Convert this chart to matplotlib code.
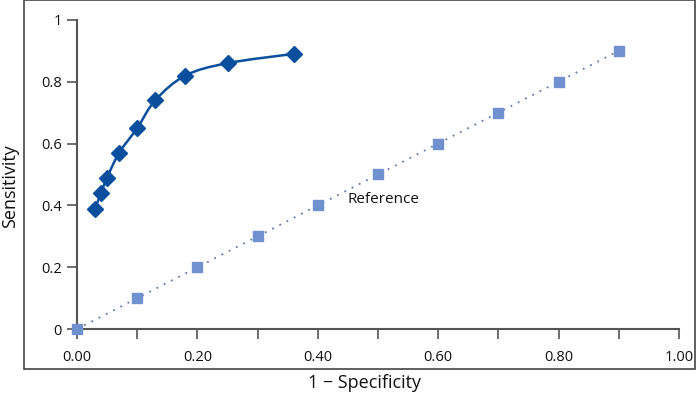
import numpy as np
import matplotlib.pyplot as plt
from matplotlib.path import Path
from matplotlib.patches import PathPatch, Rectangle

# ROC curve points
roc_fpr = [0.03, 0.04, 0.05, 0.07, 0.10, 0.13, 0.18, 0.25, 0.36]
roc_tpr = [0.39, 0.44, 0.49, 0.57, 0.65, 0.74, 0.82, 0.86, 0.89]

# reference (chance) line markers
ref_x = [0.0, 0.1, 0.2, 0.3, 0.4, 0.5, 0.6, 0.7, 0.8, 0.9]
ref_y = [0.0, 0.1, 0.2, 0.3, 0.4, 0.5, 0.6, 0.7, 0.8, 0.9]

x_ticks = [0.0, 0.2, 0.4, 0.6, 0.8, 1.0]
x_tick_labels = ["0.00", "0.20", "0.40", "0.60", "0.80", "1.00"]
y_ticks = [0, 0.2, 0.4, 0.6, 0.8, 1.0]
y_tick_labels = ["0", "0.2", "0.4", "0.6", "0.8", "1"]

dark_blue = "#0a4f9e"
light_blue = "#7090d0"
spine_grey = "#555555"

plt.rcParams['font.family'] = ['Open Sans', 'DejaVu Sans']


def smooth_path(xs, ys):
    """Catmull-Rom style bezier path through the given points."""
    pts = np.column_stack([xs, ys])
    verts = [pts[0]]
    codes = [Path.MOVETO]
    for i in range(len(pts) - 1):
        p0 = pts[i - 1] if i > 0 else pts[i]
        p1, p2 = pts[i], pts[i + 1]
        p3 = pts[i + 2] if i + 2 < len(pts) else pts[i + 1]
        c1 = p1 + (p2 - p0) / 6
        c2 = p2 - (p3 - p1) / 6
        verts += [c1, c2, p2]
        codes += [Path.CURVE4] * 3
    return Path(verts, codes)


fig = plt.figure(figsize=(7, 3.97), dpi=100)
ax = fig.add_axes([0.11, 0.171, 0.86, 0.779])

# outer frame around the plot
fig.patches.append(Rectangle((0.034, 0.0705), 0.959, 0.9285, transform=fig.transFigure,
                             fill=False, edgecolor="#444444", linewidth=1.2))

ax.plot(ref_x, ref_y, linestyle=(0, (1, 3.5)), color="#5f78a8", linewidth=1.3, zorder=2)
ax.plot(ref_x, ref_y, linestyle="none", marker="s", markersize=7.5,
        color=light_blue, clip_on=False, zorder=3)

ax.add_patch(PathPatch(smooth_path(roc_fpr, roc_tpr), facecolor="none",
                       edgecolor=dark_blue, linewidth=1.8, zorder=4))
ax.plot(roc_fpr, roc_tpr, linestyle="none", marker="D", markersize=8,
        color=dark_blue, zorder=5)

ax.text(0.45, 0.42, "Reference", fontsize=11, ha="left", va="center", color="#111111")

ax.set_xlim(0, 1)
ax.set_ylim(0, 1)
ax.set_xticks(x_ticks)
ax.set_xticklabels(x_tick_labels)
ax.set_xticks(np.arange(0.1, 1.0, 0.2), minor=True)
ax.set_yticks(y_ticks)
ax.set_yticklabels(y_tick_labels)

for side in ["top", "right"]:
    ax.spines[side].set_visible(False)
for side in ["left", "bottom"]:
    ax.spines[side].set_color(spine_grey)
    ax.spines[side].set_linewidth(1.5)

ax.tick_params(axis="both", which="both", direction="out", color=spine_grey,
               width=1.2, labelsize=10.5, labelcolor="#111111")
ax.tick_params(axis="x", which="both", length=7, pad=8)
ax.tick_params(axis="y", length=7, pad=4)

fig.text(364 / 700, 1 - 383 / 397, "1 \u2212 Specificity", ha="center", va="center",
         fontsize=13, color="#111111")
fig.text(10 / 700, 1 - 186 / 397, "Sensitivity", ha="center", va="center",
         rotation=90, fontsize=13, color="#111111")

fig.savefig("out.png", dpi=100)
